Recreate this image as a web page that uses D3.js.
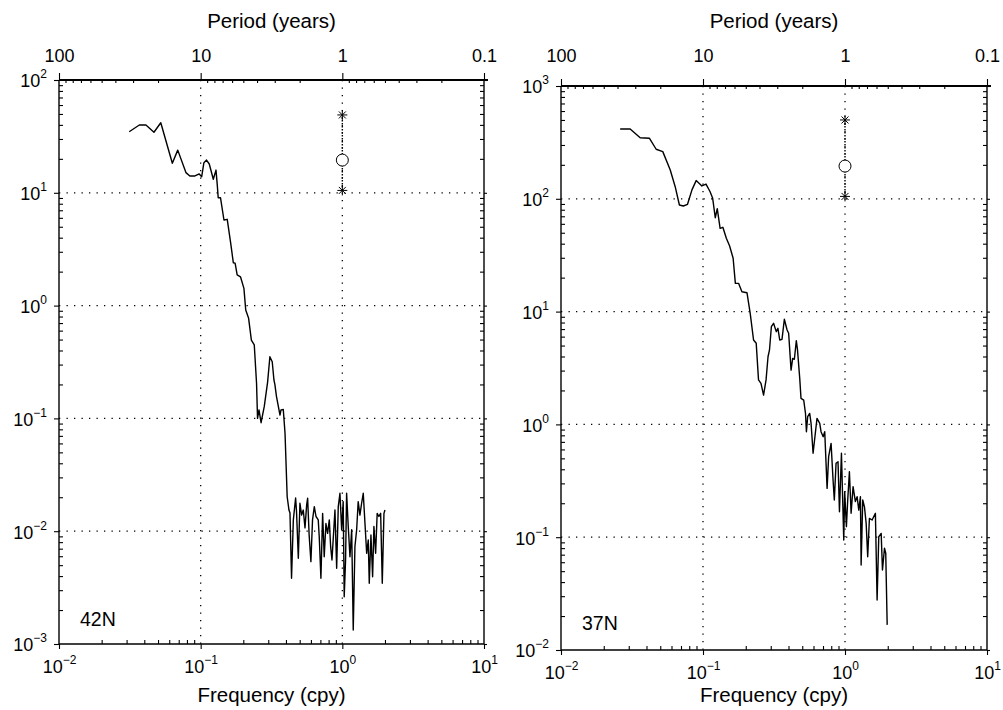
<!DOCTYPE html>
<html>
<head>
<meta charset="utf-8">
<script src="https://cdn.jsdelivr.net/npm/d3@7"></script>
<style>
  body { margin: 0; background: #fff; }
  text { font-family: 'Liberation Sans', Arial, sans-serif; fill: #000; }
</style>
</head>
<body>
<script>
// ---- data ----
var freqTicks = [0.01, 0.1, 1, 10];
var periodTicks = [100, 10, 1, 0.1];

// 42N spectrum
var leftFreq = [0.0313,0.0369,0.0411,0.0468,0.0523,0.0575,0.0631,0.0689,0.0787,0.0839,
    0.0912,0.0977,0.1017,0.1054,0.110,0.115,0.1228,0.1283,0.131,0.133,
    0.138,0.146,0.154,0.163,0.170,0.175,0.181,0.191,0.202,0.208,
    0.218,0.228,0.239,0.248,0.252,0.258,0.267,0.281,0.297,0.308,
    0.320,0.329,0.334,0.343,0.363,0.369,0.383,0.394,0.408,0.420,
    0.427,0.438,0.451,0.468,0.475,0.489,0.502,0.516,0.530,0.545,
    0.560,0.569,0.583,0.600,0.616,0.634,0.652,0.676,0.687,0.706,
    0.726,0.745,0.766,0.787,0.809,0.827,0.845,0.863,0.887,0.912,
    0.936,0.962,0.989,1.014,1.031,1.054,1.072,1.101,1.132,1.164,
    1.194,1.227,1.262,1.294,1.331,1.368,1.405,1.445,1.485,1.524,
    1.549,1.592,1.636,1.671,1.718,1.762,1.812,1.864,1.914,1.967,2.0];
var leftPower = [34.8,39.9,39.9,34.4,41.8,27.5,18.3,23.9,15.1,14.1,
    14.1,14.7,13.9,18.5,19.5,18.0,13.2,15.9,11.7,9.05,
    9.05,5.74,5.82,3.56,2.40,2.38,1.87,1.80,1.42,0.914,
    0.771,0.495,0.448,0.205,0.100,0.119,0.0916,0.127,0.211,0.352,
    0.318,0.219,0.200,0.156,0.107,0.119,0.120,0.0738,0.0202,0.0154,
    0.0145,0.00382,0.0126,0.0197,0.0149,0.00575,0.0177,0.0139,0.0154,0.0107,
    0.0171,0.0196,0.00925,0.00537,0.0126,0.0165,0.0135,0.0126,0.00894,0.00382,
    0.0144,0.00594,0.0117,0.00957,0.0126,0.00729,0.00556,0.00865,0.0154,0.00469,
    0.0165,0.0217,0.0103,0.0183,0.00262,0.00556,0.0217,0.0110,0.00594,0.0103,
    0.00133,0.00729,0.0103,0.0183,0.0139,0.0177,0.0217,0.0117,0.00637,0.00836,
    0.00345,0.00925,0.00395,0.0110,0.00637,0.0144,0.0135,0.0144,0.00345,0.0144,0.0154];
var leftErr = [10.5, 19.5, 49]; // lower, centre, upper at 1 cpy

// 37N spectrum
var rightFreq = [0.0261,0.0307,0.0361,0.0420,0.0468,0.0521,0.0588,0.0637,0.0682,0.0727,
    0.0778,0.0836,0.0895,0.0982,0.105,0.112,0.117,0.122,0.126,0.132,
    0.138,0.146,0.154,0.163,0.169,0.178,0.188,0.204,0.215,0.227,
    0.237,0.246,0.256,0.267,0.278,0.287,0.294,0.303,0.314,0.328,
    0.337,0.347,0.360,0.374,0.391,0.401,0.417,0.428,0.440,0.454,
    0.463,0.480,0.490,0.512,0.527,0.535,0.546,0.564,0.577,0.596,
    0.618,0.635,0.664,0.678,0.702,0.720,0.748,0.767,0.798,0.824,
    0.841,0.865,0.893,0.914,0.944,0.980,0.995,1.023,1.045,1.074,
    1.104,1.140,1.183,1.217,1.250,1.284,1.299,1.333,1.371,1.409,
    1.445,1.486,1.552,1.637,1.683,1.729,1.798,1.836,1.897,1.936,1.982];
var rightPower = [416,416,348,344,275,262,180,128,88.1,86.3,
    89.4,120,145,130,135,116,101,67.9,81.7,54.7,
    55.9,44.7,38.2,29.7,17.8,17.8,15.0,14.7,9.66,5.60,
    5.24,2.48,2.31,1.82,2.48,3.98,4.57,7.35,7.87,6.64,
    7.11,5.60,5.68,8.55,6.87,6.42,3.03,3.85,3.78,5.52,
    4.57,2.56,1.70,1.64,1.25,0.861,1.17,1.25,1.02,0.555,
    0.834,1.13,1.02,0.861,0.778,0.861,0.271,0.518,0.679,0.321,
    0.214,0.452,0.467,0.168,0.555,0.0944,0.253,0.124,0.214,0.381,
    0.163,0.281,0.207,0.229,0.174,0.229,0.0567,0.214,0.186,0.133,
    0.0671,0.147,0.142,0.163,0.0277,0.101,0.108,0.0512,0.0798,0.0720,0.0167];
var rightErr = [105, 195, 500];

var svg = d3.select('body').append('svg')
    .attr('width', 1003)
    .attr('height', 710);

svg.append('rect').attr('width', 1003).attr('height', 710).attr('fill', '#fff');

function supLabel(sel, exp) {
    sel.text(null);
    sel.append('tspan').text('10');
    sel.append('tspan').attr('dy', -9).attr('font-size', 12).text(exp < 0 ? '\u2212' + (-exp) : exp);
}

function minorTicks(lo, hi) {
    var out = [];
    for (var e = Math.round(Math.log10(lo)); e < Math.round(Math.log10(hi)); e++) {
        for (var k = 2; k <= 9; k++) out.push(k * Math.pow(10, e));
    }
    return out;
}

function drawPanel(p) {
    var g = svg.append('g');

    var x = d3.scaleLog().domain([0.01, 10]).range([p.left, p.right]);
    var y = d3.scaleLog().domain(p.yDomain).range([p.bottom, p.top]);
    var per = d3.scaleLog().domain([100, 0.1]).range([p.left, p.right]);

    var yTicks = d3.range(Math.log10(p.yDomain[0]), Math.log10(p.yDomain[1]) + 1).map(e => Math.pow(10, e));

    // dotted grid
    g.selectAll('.vgrid').data([0.1, 1]).enter().append('line')
        .attr('x1', d => x(d)).attr('x2', d => x(d))
        .attr('y1', p.top).attr('y2', p.bottom)
        .attr('stroke', '#000').attr('stroke-width', 1.3)
        .attr('stroke-dasharray', '1.3,6.2');
    g.selectAll('.hgrid').data(yTicks.slice(1, -1)).enter().append('line')
        .attr('y1', d => y(d)).attr('y2', d => y(d))
        .attr('x1', p.left).attr('x2', p.right)
        .attr('stroke', '#000').attr('stroke-width', 1.3)
        .attr('stroke-dasharray', '1.3,6.2');

    // minor ticks (inward)
    var yMinor = minorTicks(p.yDomain[0], p.yDomain[1]);
    var xMinor = minorTicks(0.01, 10);
    var pMinor = minorTicks(0.1, 100);

    g.append('g').attr('transform', `translate(${p.left},0)`)
        .call(d3.axisRight(y).tickValues(yMinor).tickSize(4).tickFormat(''));
    g.append('g').attr('transform', `translate(${p.right},0)`)
        .call(d3.axisLeft(y).tickValues(yMinor).tickSize(4).tickFormat(''));
    g.append('g').attr('transform', `translate(0,${p.bottom})`)
        .call(d3.axisTop(x).tickValues(xMinor).tickSize(4).tickFormat(''));
    g.append('g').attr('transform', `translate(0,${p.top})`)
        .call(d3.axisBottom(per).tickValues(pMinor).tickSize(3).tickFormat(''));

    // major ticks + labels
    var leftAxis = g.append('g').attr('transform', `translate(${p.left},0)`)
        .call(d3.axisLeft(y).tickValues(yTicks).tickSize(5).tickPadding(7));
    leftAxis.selectAll('text').attr('font-size', 18).attr('dy', '0.38em')
        .each(function (d) { supLabel(d3.select(this), Math.round(Math.log10(d))); });

    g.append('g').attr('transform', `translate(${p.right},0)`)
        .call(d3.axisRight(y).tickValues(yTicks).tickSize(3).tickFormat(''));

    var bottomAxis = g.append('g').attr('transform', `translate(0,${p.bottom})`)
        .call(d3.axisBottom(x).tickValues(freqTicks).tickSize(5).tickPadding(11));
    bottomAxis.selectAll('text').attr('font-size', 18).attr('dy', '0.71em')
        .each(function (d) { supLabel(d3.select(this), Math.round(Math.log10(d))); });

    var topAxis = g.append('g').attr('transform', `translate(0,${p.top})`)
        .call(d3.axisTop(per).tickValues(periodTicks).tickSize(7).tickPadding(p.top - 69)
            .tickFormat(d => String(d)));
    topAxis.selectAll('text').attr('font-size', 18).attr('dy', 0);

    svg.selectAll('.domain').remove();
    g.selectAll('.tick line').attr('stroke', '#000').attr('stroke-width', 1.1);

    // frame
    g.append('line').attr('x1', p.left).attr('x2', p.left).attr('y1', p.top).attr('y2', p.bottom)
        .attr('stroke', '#000').attr('stroke-width', 1.4);
    g.append('line').attr('x1', p.right).attr('x2', p.right).attr('y1', p.top).attr('y2', p.bottom)
        .attr('stroke', '#000').attr('stroke-width', 1.4);
    g.append('line').attr('x1', p.left).attr('x2', p.right).attr('y1', p.bottom).attr('y2', p.bottom)
        .attr('stroke', '#000').attr('stroke-width', 1.6);
    g.append('line').attr('x1', p.left).attr('x2', p.right + 4).attr('y1', p.top).attr('y2', p.top)
        .attr('stroke', '#000').attr('stroke-width', 2);

    // spectrum
    var line = d3.line().x(d => x(d[0])).y(d => y(d[1]));
    g.append('path')
        .datum(d3.zip(p.freq, p.power))
        .attr('d', line)
        .attr('fill', 'none')
        .attr('stroke', '#000')
        .attr('stroke-width', 1.4)
        .attr('stroke-linejoin', 'round');

    // error bar at 1 cpy
    var ex = x(1);
    g.append('line')
        .attr('x1', ex).attr('x2', ex)
        .attr('y1', y(p.err[0])).attr('y2', y(p.err[2]))
        .attr('stroke', '#000').attr('stroke-width', 1.4)
        .attr('stroke-dasharray', '1.5,1.5');
    g.append('circle')
        .attr('cx', ex).attr('cy', y(p.err[1])).attr('r', 6)
        .attr('fill', '#fff').attr('stroke', '#000').attr('stroke-width', 1);
    var s = 5;
    g.selectAll('.star').data([p.err[0], p.err[2]]).enter().append('path')
        .attr('transform', d => `translate(${ex},${y(d)})`)
        .attr('d', `M${-s},0H${s}M${-s * 0.7},${-s * 0.7}L${s * 0.7},${s * 0.7}M${-s * 0.7},${s * 0.7}L${s * 0.7},${-s * 0.7}M0,${-s}V${s}`)
        .attr('stroke', '#000').attr('stroke-width', 1);

    // titles
    var cx = (p.left + p.right) / 2;
    svg.append('text').attr('x', cx).attr('y', 28).attr('text-anchor', 'middle')
        .attr('font-size', 20.5).text('Period (years)');
    svg.append('text').attr('x', cx).attr('y', 702).attr('text-anchor', 'middle')
        .attr('font-size', 20.5).text('Frequency (cpy)');
    svg.append('text').attr('x', p.left + 21).attr('y', p.labelY)
        .attr('font-size', 19.5).text(p.label);
}

drawPanel({
    left: 59, right: 484, top: 80, bottom: 644,
    yDomain: [1e-3, 1e2],
    freq: leftFreq, power: leftPower, err: leftErr,
    label: '42N', labelY: 626
});

drawPanel({
    left: 561, right: 987, top: 86, bottom: 650,
    yDomain: [1e-2, 1e3],
    freq: rightFreq, power: rightPower, err: rightErr,
    label: '37N', labelY: 630
});
</script>
</body>
</html>
